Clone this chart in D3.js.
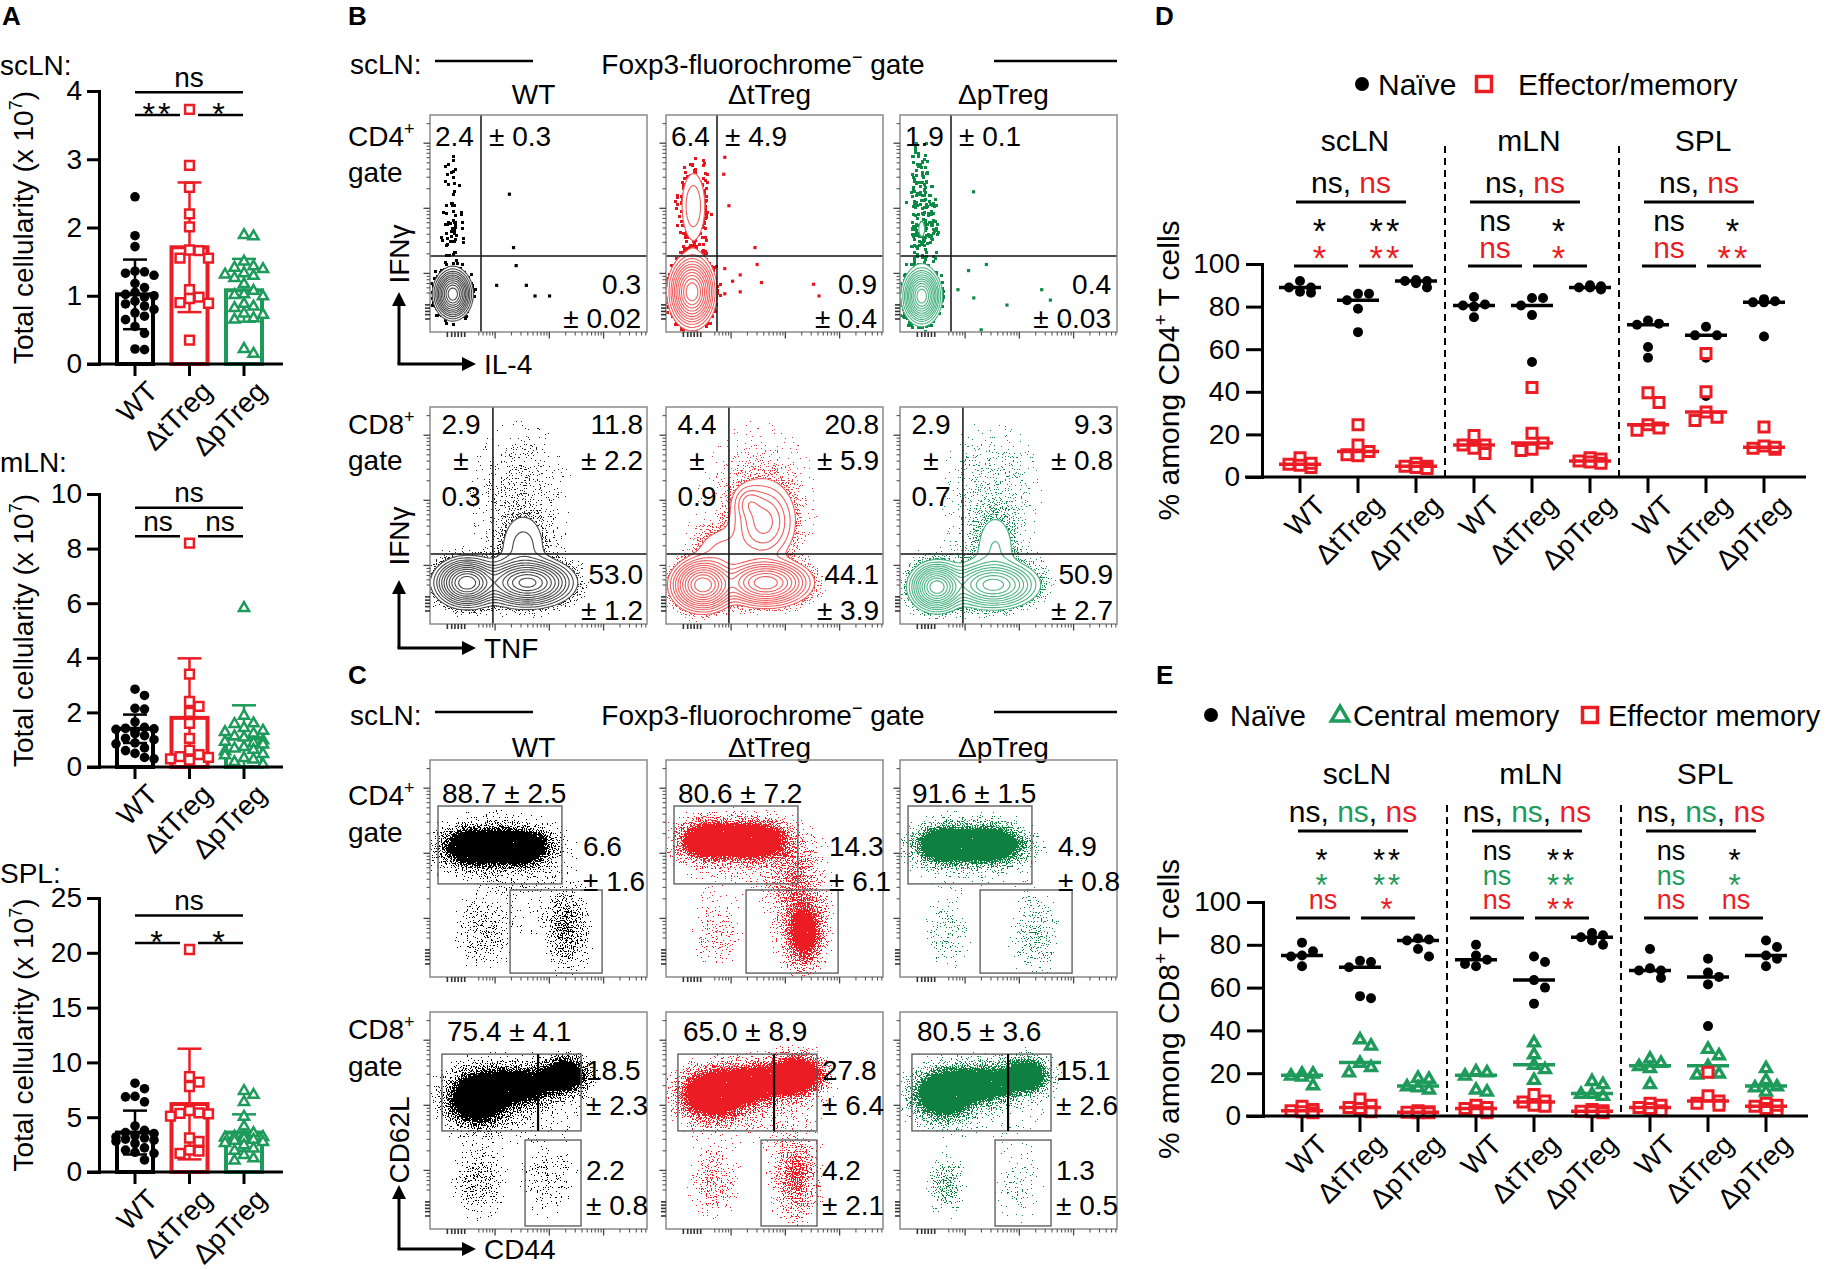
<!DOCTYPE html>
<html>
<head>
<meta charset="utf-8">
<script src="https://cdn.jsdelivr.net/npm/d3@7/dist/d3.min.js"></script>
<style>
  body { margin: 0; background: #fff; }
  svg { display: block; font-family: Arial, "Liberation Sans", Helvetica, sans-serif; }
</style>
</head>
<body>
<svg id="fig" width="1826" height="1269"></svg>
<script>
// ---------------- data ----------------
var groups = ["WT", "ΔtTreg", "ΔpTreg"];
var organs = ["scLN", "mLN", "SPL"];

// A: total cellularity (x 10^7), one list per genotype
var cellScLN = [
  [2.45, 1.88, 1.72, 1.36, 1.35, 1.33, 1.3, 1.18, 1.12, 1.05, 1.02, 1.0, 0.98, 0.92, 0.88, 0.85, 0.8, 0.75, 0.7, 0.65, 0.55, 0.45, 0.22, 0.21],
  [3.73, 2.91, 2.59, 2.2, 2.01, 1.67, 1.66, 1.55, 1.55, 1.09, 0.98, 0.96, 0.9, 0.89, 0.35],
  [1.9, 1.88, 1.51, 1.44, 1.42, 1.4, 1.34, 1.32, 1.3, 1.27, 1.18, 1.08, 1.03, 1.02, 1.0, 0.89, 0.85, 0.83, 0.75, 0.73, 0.68, 0.66, 0.23, 0.16]
];
var meanScLN = [1.02, 1.71, 1.08];
var sdScLN = [0.51, 0.95, 0.46];
var cellMLN = [
  [2.85, 2.62, 2.15, 2.12, 1.65, 1.45, 1.42, 1.4, 1.38, 1.3, 1.22, 1.15, 1.05, 1.0, 0.88, 0.85, 0.7, 0.6, 0.5, 0.35, 0.3],
  [8.2, 3.4, 2.4, 2.22, 2.0, 1.6, 1.05, 0.62, 0.45, 0.38, 0.35, 0.3, 0.25],
  [5.85, 1.9, 1.62, 1.6, 1.45, 1.35, 1.3, 1.25, 1.15, 1.1, 1.0, 0.95, 0.9, 0.85, 0.75, 0.7, 0.65, 0.6, 0.5, 0.45, 0.35, 0.3, 0.2, 0.12]
];
var meanMLN = [1.4, 1.8, 1.04];
var sdMLN = [0.52, 2.18, 1.22];
var cellSPL = [
  [8.1, 7.6, 6.9, 6.85, 6.4, 4.2, 3.8, 3.6, 3.5, 3.3, 3.2, 3.1, 3.0, 2.9, 2.8, 2.6, 2.2, 2.0, 1.8, 1.7, 1.1],
  [20.3, 8.7, 8.2, 7.8, 5.6, 5.4, 5.35, 5.3, 5.1, 3.1, 2.8, 2.0, 1.9, 1.7],
  [7.45, 7.1, 6.45, 5.1, 4.2, 3.6, 3.4, 3.3, 3.25, 3.2, 3.1, 3.0, 2.9, 2.8, 2.7, 2.5, 2.2, 2.0, 1.6, 1.3, 1.1]
];
var meanSPL = [3.6, 6.2, 3.6];
var sdSPL = [2.0, 5.05, 1.66];
// significance: all three, WT vs ΔtTreg, ΔtTreg vs ΔpTreg
var sigScLN = ["ns", "**", "*"];
var sigMLN = ["ns", "ns", "ns"];
var sigSPL = ["ns", "*", "*"];

// B: cytokine quadrant frequencies (mean ± SD)
var bCd4IfngMean = ["2.4", "6.4", "1.9"];
var bCd4IfngSd = ["0.3", "4.9", "0.1"];
var bCd4Il4Mean = ["0.3", "0.9", "0.4"];
var bCd4Il4Sd = ["0.02", "0.4", "0.03"];
var bCd8IfngMean = ["2.9", "4.4", "2.9"];
var bCd8IfngSd = ["0.3", "0.9", "0.7"];
var bCd8DoubleMean = ["11.8", "20.8", "9.3"];
var bCd8DoubleSd = ["2.2", "5.9", "0.8"];
var bCd8TnfMean = ["53.0", "44.1", "50.9"];
var bCd8TnfSd = ["1.2", "3.9", "2.7"];

// C: CD62L / CD44 gate frequencies
var cCd4NaiveMean = ["88.7", "80.6", "91.6"];
var cCd4NaiveSd = ["2.5", "7.2", "1.5"];
var cCd4EffMean = ["6.6", "14.3", "4.9"];
var cCd4EffSd = ["1.6", "6.1", "0.8"];
var cCd8NaiveMean = ["75.4", "65.0", "80.5"];
var cCd8NaiveSd = ["4.1", "8.9", "3.6"];
var cCd8CmMean = ["18.5", "27.8", "15.1"];
var cCd8CmSd = ["2.3", "6.4", "2.6"];
var cCd8EmMean = ["2.2", "4.2", "1.3"];
var cCd8EmSd = ["0.8", "2.1", "0.5"];

// flow populations: [x, y, spreadX, spreadY, weight] in axis fractions
var bCd4Pops = [
  [[0.105, 0.175, 0.034, 0.045, 1], [0.1, 0.45, 0.045, 0.09, 0.016], [0.1, 0.72, 0.04, 0.12, 0.012], [0.11, 0.18, 0.06, 0.08, 0.012]],
  [[0.12, 0.185, 0.042, 0.065, 1], [0.125, 0.58, 0.03, 0.085, 0.05], [0.13, 0.58, 0.055, 0.17, 0.022], [0.12, 0.19, 0.065, 0.1, 0.015]],
  [[0.1, 0.165, 0.034, 0.05, 1], [0.1, 0.46, 0.05, 0.1, 0.024], [0.1, 0.72, 0.05, 0.12, 0.018], [0.1, 0.17, 0.065, 0.1, 0.016]]
];
var bCd4Dots = [
  [[0.366, 0.635], [0.385, 0.389], [0.397, 0.306], [0.307, 0.215], [0.444, 0.215], [0.484, 0.166], [0.551, 0.166]],
  [[0.271, 0.805], [0.266, 0.727], [0.29, 0.582], [0.41, 0.389], [0.271, 0.292], [0.342, 0.263], [0.307, 0.234], [0.342, 0.185], [0.271, 0.176], [0.42, 0.311], [0.44, 0.228], [0.68, 0.22], [0.705, 0.166]],
  [[0.339, 0.646], [0.316, 0.283], [0.398, 0.311], [0.267, 0.195], [0.34, 0.157], [0.493, 0.124], [0.653, 0.195], [0.693, 0.147], [0.741, 0.04], [0.374, 0.01]]
];
var bCd8Pops = [
  [[0.17, 0.19, 0.06, 0.045, 1], [0.45, 0.19, 0.085, 0.045, 0.9], [0.43, 0.36, 0.065, 0.09, 0.05], [0.42, 0.62, 0.15, 0.2, 0.01], [0.3, 0.2, 0.2, 0.09, 0.015]],
  [[0.17, 0.18, 0.06, 0.05, 1], [0.46, 0.19, 0.085, 0.045, 0.8], [0.45, 0.47, 0.07, 0.09, 0.18], [0.38, 0.56, 0.035, 0.04, 0.08], [0.26, 0.33, 0.08, 0.07, 0.05], [0.42, 0.6, 0.17, 0.21, 0.01]],
  [[0.17, 0.17, 0.05, 0.045, 1.1], [0.43, 0.18, 0.085, 0.045, 0.65], [0.44, 0.35, 0.06, 0.1, 0.045], [0.42, 0.62, 0.15, 0.2, 0.011], [0.3, 0.2, 0.2, 0.09, 0.015]]
];
var cCd4Pops = [
  [[0.2, 0.6, 0.08, 0.05, 2.2], [0.4, 0.6, 0.09, 0.05, 2.2], [0.3, 0.58, 0.2, 0.11, 0.18], [0.25, 0.2, 0.08, 0.1, 0.25], [0.63, 0.22, 0.06, 0.11, 0.5], [0.45, 0.35, 0.15, 0.12, 0.07]],
  [[0.2, 0.63, 0.08, 0.05, 2.2], [0.4, 0.63, 0.09, 0.05, 2.2], [0.35, 0.57, 0.2, 0.11, 0.18], [0.64, 0.2, 0.05, 0.09, 1.2], [0.62, 0.3, 0.08, 0.16, 0.3], [0.24, 0.2, 0.07, 0.1, 0.22], [0.58, 0.47, 0.07, 0.1, 0.3]],
  [[0.21, 0.61, 0.08, 0.05, 2.2], [0.41, 0.61, 0.09, 0.05, 2.2], [0.32, 0.58, 0.2, 0.11, 0.14], [0.22, 0.2, 0.07, 0.1, 0.2], [0.62, 0.2, 0.07, 0.12, 0.26]]
];
var cCd8Pops = [
  [[0.22, 0.6, 0.08, 0.07, 2.2], [0.4, 0.66, 0.1, 0.05, 1.8], [0.62, 0.71, 0.06, 0.045, 2.2], [0.4, 0.6, 0.22, 0.13, 0.14], [0.22, 0.22, 0.07, 0.1, 0.3], [0.55, 0.22, 0.08, 0.1, 0.22]],
  [[0.22, 0.62, 0.09, 0.065, 2.2], [0.4, 0.67, 0.1, 0.05, 1.8], [0.6, 0.71, 0.07, 0.05, 2.4], [0.4, 0.6, 0.22, 0.13, 0.16], [0.6, 0.24, 0.06, 0.12, 0.65], [0.22, 0.22, 0.07, 0.1, 0.28]],
  [[0.2, 0.62, 0.08, 0.065, 2.2], [0.38, 0.67, 0.1, 0.05, 1.8], [0.58, 0.71, 0.06, 0.045, 2.0], [0.4, 0.6, 0.22, 0.12, 0.12], [0.21, 0.2, 0.05, 0.08, 0.4], [0.55, 0.2, 0.08, 0.12, 0.14]]
];
// flow axis ticks (fractions of the axis)
var flowMajorX = [0.3, 0.55, 0.8];
var flowZeroX = [0.08, 0.1, 0.115, 0.13, 0.145, 0.16];
var flowMajorY = [0.27, 0.57, 0.87];
var flowZeroY = [0.06, 0.08, 0.095, 0.11, 0.125];

// D: % among CD4+ T cells, [organ][genotype] = mice
var cd4Naive = [
  [[92, 86.5, 89, 89, 87], [86, 86, 83, 79, 68], [91, 89, 92, 92.5, 92]],
  [[84.5, 80, 81, 75, 80.5], [84, 84, 80.5, 76, 54], [88, 89, 89, 90, 89.5]],
  [[73.5, 72, 71.5, 61, 56], [70.5, 66.5, 66.5, 56, 38], [82, 82.5, 82, 83.5, 66]]
];
var cd4Eff = [
  [[9, 4.5, 6.5, 5.5, 6], [24.5, 15, 10.5, 12, 10], [5, 6.5, 4.5, 5, 4]],
  [[19.5, 15, 11, 13.5, 15], [42, 20.5, 16, 12.5, 13], [7.5, 9, 8.5, 7, 6.5]],
  [[39.5, 35, 24.5, 23, 22], [58, 40, 30.5, 26.5, 28], [23.5, 14.5, 13, 14, 13.5]]
];
var cd4SigAll = [["ns", "ns"], ["ns", "ns"], ["ns", "ns"]];
var cd4SigPair = [[["*", "**"], ["*", "**"]], [["ns", "*"], ["ns", "*"]], [["ns", "*"], ["ns", "**"]]];

// E: % among CD8+ T cells
var cd8Naive = [
  [[81, 77, 75, 70, 74.5], [72.5, 72, 69.5, 56, 55], [83, 82.5, 82, 78, 74.5]],
  [[80, 75, 73, 70, 71], [74.5, 72, 63.5, 60, 52.5], [85.5, 84.5, 83.5, 82, 80]],
  [[78, 69, 68, 64.5, 68], [73.5, 67, 65, 61.5, 42], [82, 79, 75, 73.5, 70]]
];
var cd8Cm = [
  [[20, 19, 18.5, 14.5, 20], [36, 33, 25, 23, 20.5], [18, 17.5, 13.5, 12.5, 14]],
  [[21, 20.5, 19, 12.5, 11.5], [34.5, 29, 24, 22, 17], [16.5, 15, 10.5, 10.5, 9.5]],
  [[27, 25, 23.5, 22.5, 15], [31.5, 28.5, 23.5, 20, 19.5], [22.5, 17, 14, 13.5, 11.5]]
];
var cd8Em = [
  [[4.5, 2.5, 2, 3, 1.5], [8, 5, 4, 3.5, 2], [2.5, 2, 1.5, 1.8, 1.5]],
  [[5, 3.5, 2.5, 4, 1.5], [10, 7, 5, 4.5, 6.5], [3, 2.5, 2, 1.5, 2.2]],
  [[6, 5, 4, 3.5, 2.5], [20.5, 9.5, 7, 6, 5], [6, 4.5, 3.5, 2.5, 5]]
];
var cd8SigAll = [["ns", "ns", "ns"], ["ns", "ns", "ns"], ["ns", "ns", "ns"]];
var cd8SigPair = [
  [["*", "**"], ["*", "**"], ["ns", "*"]],
  [["ns", "**"], ["ns", "**"], ["ns", "**"]],
  [["ns", "*"], ["ns", "*"], ["ns", "ns"]]
];
var pctTicks = [0, 20, 40, 60, 80, 100];

// ---------------- drawing ----------------
var svg = d3.select("#fig");
var defs = svg.append("defs");
var RED = "#ec1c24", GREEN = "#1e9a5a";
var colorOf = ["#000000", RED, GREEN];

function addText(parent, x, y, str, size, anchor, color, weight) {
  return parent.append("text").attr("x", x).attr("y", y).attr("font-size", size)
    .attr("text-anchor", anchor || "start").attr("fill", color || "#000")
    .attr("font-weight", weight || "normal").text(str);
}
function hline(parent, x1, x2, y, w, color) {
  return parent.append("line").attr("x1", x1).attr("x2", x2).attr("y1", y).attr("y2", y)
    .attr("stroke", color || "#000").attr("stroke-width", w);
}
function vline(parent, x, y1, y2, w, color) {
  return parent.append("line").attr("x1", x).attr("x2", x).attr("y1", y1).attr("y2", y2)
    .attr("stroke", color || "#000").attr("stroke-width", w);
}
// significance label centred on cy; asterisks sit higher in the font so they get shifted
function sigText(parent, x, cy, str, color, fs) {
  var star = str.indexOf("*") >= 0;
  var size = star ? fs * 1.15 : fs;
  return parent.append("text").attr("x", x).attr("y", cy + (star ? 0.57 * size : 0.27 * size))
    .attr("font-size", size).attr("text-anchor", "middle").attr("fill", color)
    .attr("letter-spacing", star ? 3 : 0).text(str);
}
function styleAxis(sel, fs, w) {
  sel.attr("font-size", fs).attr("font-family", null);
  sel.select(".domain").attr("stroke-width", w).attr("stroke-linecap", "square");
  sel.selectAll(".tick line").attr("stroke-width", w);
}
function marker(parent, shape, x, y, color, size, sw) {
  if (shape === "circle") {
    return parent.append("circle").attr("cx", x).attr("cy", y).attr("r", size).attr("fill", color);
  }
  var sym = shape === "square" ? d3.symbolSquare : d3.symbolTriangle;
  var area = shape === "square" ? (2 * size) * (2 * size) : Math.sqrt(3) / 4 * Math.pow(2.3 * size, 2);
  return parent.append("path").attr("d", d3.symbol().type(sym).size(area)())
    .attr("transform", "translate(" + x + "," + (y + (shape === "triangle" ? size * 0.15 : 0)) + ")")
    .attr("fill", "#fff").attr("stroke", color).attr("stroke-width", sw);
}
// spread points sideways so they do not sit on top of each other
function swarm(vals, yScale, step, maxOff) {
  var placed = [], off = [];
  var order = vals.map(function (v, i) { return i; }).sort(function (a, b) { return vals[b] - vals[a]; });
  var cands = [0];
  for (var k = 1; k * step <= maxOff + 0.1; k++) { cands.push(k * step, -k * step); }
  order.forEach(function (i, n) {
    var py = yScale(vals[i]), pick = null;
    for (var c = 0; c < cands.length; c++) {
      var ok = placed.every(function (p) { return Math.hypot(p[0] - cands[c], p[1] - py) >= step * 0.92; });
      if (ok) { pick = cands[c]; break; }
    }
    if (pick === null) pick = cands[n % cands.length];
    off[i] = pick;
    placed.push([pick, py]);
  });
  return off;
}

// panel letters
addText(svg, 2, 25, "A", 26, "start", "#000", "bold");
addText(svg, 348, 25, "B", 26, "start", "#000", "bold");
addText(svg, 348, 684, "C", 26, "start", "#000", "bold");
addText(svg, 1155, 25, "D", 26, "start", "#000", "bold");
addText(svg, 1156, 684, "E", 26, "start", "#000", "bold");

// ---------- A ----------
var aRows = [
  { name: "scLN:", nameY: 75, base: 364, top: 91, max: 4, ticks: [0, 1, 2, 3, 4], pts: cellScLN, mean: meanScLN, sd: sdScLN, sig: sigScLN, hi: 3.98, lo: 3.65 },
  { name: "mLN:", nameY: 472, base: 767, top: 494, max: 10, ticks: [0, 2, 4, 6, 8, 10], pts: cellMLN, mean: meanMLN, sd: sdMLN, sig: sigMLN, hi: 9.5, lo: 8.45 },
  { name: "SPL:", nameY: 883, base: 1172, top: 898, max: 25, ticks: [0, 5, 10, 15, 20, 25], pts: cellSPL, mean: meanSPL, sd: sdSPL, sig: sigSPL, hi: 23.4, lo: 20.9 }
];
var ax = d3.scalePoint().domain(groups).range([135, 244]);
aRows.forEach(function (r) {
  var g = svg.append("g");
  var y = d3.scaleLinear().domain([0, r.max]).range([r.base, r.top]);
  addText(g, 0, r.nameY, r.name, 28);
  var yl = g.append("text").attr("transform", "translate(33," + ((r.base + r.top) / 2) + ") rotate(-90)")
    .attr("text-anchor", "middle").attr("font-size", 28);
  yl.append("tspan").text("Total cellularity (x 10");
  yl.append("tspan").attr("font-size", 18).attr("dy", -11).text("7");
  yl.append("tspan").attr("dy", 11).text(")");

  groups.forEach(function (gr, i) {
    var cx = ax(gr), col = colorOf[i];
    var m = r.mean[i], lo = Math.max(0, m - r.sd[i]), hi = m + r.sd[i];
    g.append("rect").attr("x", cx - 18).attr("y", y(m)).attr("width", 36).attr("height", r.base - y(m))
      .attr("fill", "none").attr("stroke", col).attr("stroke-width", 4);
    vline(g, cx, y(lo), y(hi), 2.5, col);
    hline(g, cx - 12, cx + 12, y(hi), 2.5, col);
    if (lo > 0) hline(g, cx - 12, cx + 12, y(lo), 2.5, col);
    var vals = r.pts[i];
    var off = swarm(vals, y, 9.5, 19);
    vals.forEach(function (v, k) {
      marker(g, ["circle", "square", "triangle"][i], cx + off[k], y(v), col, i === 0 ? 4.8 : 4.4, 2.5);
    });
  });

  var ya = g.append("g").attr("transform", "translate(99,0)")
    .call(d3.axisLeft(y).tickValues(r.ticks).tickFormat(d3.format("d")).tickSize(12).tickPadding(5).tickSizeOuter(0));
  styleAxis(ya, 28, 3);
  hline(g, 87, 283, r.base, 3);
  groups.forEach(function (gr) {
    vline(g, ax(gr), r.base, r.base + 12, 3);
    g.append("text").attr("transform", "translate(" + (ax(gr) + 10) + "," + (r.base + 15) + ") rotate(-45)")
      .attr("text-anchor", "end").attr("dy", "0.72em").attr("font-size", 28).text(gr);
  });

  // significance bars
  var yHi = y(r.hi), yLo = y(r.lo);
  hline(g, 135, 243, yHi, 2.5);
  sigText(g, 189, yHi - 13, r.sig[0], "#000", 28);
  hline(g, 135, 180, yLo, 2.5);
  hline(g, 198, 243, yLo, 2.5);
  sigText(g, 158, yLo - (r.sig[1].indexOf("*") >= 0 ? 8 : 13), r.sig[1], "#000", 28);
  sigText(g, 220, yLo - (r.sig[2].indexOf("*") >= 0 ? 8 : 13), r.sig[2], "#000", 28);
});

// ---------- B and C: flow plots ----------
var S = 217, GN = 100;
var flowX = [430, 666, 900];
var contourLevels = [0.025, 0.045, 0.075, 0.11, 0.16, 0.22, 0.3, 0.4, 0.52, 0.66, 0.82];
var stipLevels = d3.range(1, 21).map(function (k) { return k / 20; });
var plotId = 0;

function mixture(pops, u, v) {
  var d = 0;
  pops.forEach(function (p) {
    var du = (u - p[0]) / p[2], dv = (v - p[1]) / p[3];
    d += p[4] * Math.exp(-0.5 * (du * du + dv * dv));
  });
  return d;
}
// speckle texture: a pixel is lit when the local density beats the noise value
function stippleFilter(id, x0, y0, color, freq, seed, grow) {
  var f = defs.append("filter").attr("id", id).attr("filterUnits", "userSpaceOnUse")
    .attr("x", x0).attr("y", y0).attr("width", S).attr("height", S)
    .attr("color-interpolation-filters", "sRGB");
  f.append("feTurbulence").attr("type", "fractalNoise").attr("baseFrequency", freq)
    .attr("numOctaves", 2).attr("seed", seed).attr("result", "noise");
  f.append("feColorMatrix").attr("in", "noise").attr("type", "matrix")
    .attr("values", "0 0 0 0 0  0 0 0 0 0  0 0 0 0 0  1 0 0 0 0").attr("result", "na");
  f.append("feComponentTransfer").attr("in", "na").attr("result", "nu")
    .append("feFuncA").attr("type", "table").attr("tableValues", "0 0 0.01 0.06 0.22 0.5 0.78 0.94 0.99 1 1");
  f.append("feComposite").attr("in", "SourceGraphic").attr("in2", "nu").attr("operator", "arithmetic")
    .attr("k1", 0).attr("k2", 1).attr("k3", -1).attr("k4", 0.49).attr("result", "diff");
  f.append("feComponentTransfer").attr("in", "diff").attr("result", "mask0")
    .append("feFuncA").attr("type", "discrete").attr("tableValues", "0 1");
  if (grow) {
    f.append("feMorphology").attr("in", "mask0").attr("operator", "dilate").attr("radius", grow).attr("result", "mask");
  } else {
    f.append("feOffset").attr("in", "mask0").attr("dx", 0).attr("dy", 0).attr("result", "mask");
  }
  f.append("feFlood").attr("flood-color", color).attr("result", "col");
  f.append("feComposite").attr("in", "col").attr("in2", "mask").attr("operator", "in");
}

function flowPlot(x0, y0, o) {
  plotId++;
  var id = "fp" + plotId;
  var g = svg.append("g");
  var x = d3.scaleLinear().domain([0, 1]).range([x0, x0 + S]);
  var y = d3.scaleLinear().domain([0, 1]).range([y0 + S, y0]);
  defs.append("clipPath").attr("id", id + "c").append("rect")
    .attr("x", x0).attr("y", y0).attr("width", S).attr("height", S);
  var vals = [];
  for (var j = 0; j < GN; j++) {
    for (var i = 0; i < GN; i++) vals.push(mixture(o.pops, (i + 0.5) / GN, 1 - (j + 0.5) / GN));
  }
  if (o.type === "contour") {
    var mx = d3.max(vals);
    vals = vals.map(function (v) { return v / mx; });
  }
  var path = d3.geoPath(d3.geoIdentity().scale(S / GN).translate([x0, y0]));
  var inner = g.append("g").attr("clip-path", "url(#" + id + "c)");

  stippleFilter(id + "f", x0, y0, o.dot, o.grain, plotId * 13 + 5, o.grow);
  var st = inner.append("g").attr("filter", "url(#" + id + "f)");
  var areas = d3.contours().size([GN, GN]).thresholds(stipLevels.map(function (t) { return t / o.gain; }))(vals);
  var prev = 0;
  areas.forEach(function (a, k) {
    var t = stipLevels[k];
    var op = t >= 1 ? 1 : 1 - (1 - t) / (1 - prev);
    prev = t;
    st.append("path").attr("d", path(a)).attr("fill", "#000").attr("fill-opacity", op);
  });

  if (o.type === "contour") {
    var rings = d3.contours().size([GN, GN]).thresholds(contourLevels)(vals);
    inner.append("path").attr("d", path(rings[0])).attr("fill", "#fff");
    rings.forEach(function (rg) {
      inner.append("path").attr("d", path(rg)).attr("fill", "none").attr("stroke", o.line).attr("stroke-width", 1.1);
    });
  }
  (o.dots || []).forEach(function (p) {
    inner.append("rect").attr("x", x(p[0]) - 1.6).attr("y", y(p[1]) - 1.6)
      .attr("width", 3.2).attr("height", 3.2).attr("fill", o.dot);
  });
  return { g: g, x: x, y: y, inner: inner, x0: x0, y0: y0 };
}

function flowFrame(fp) {
  var g = fp.g, x0 = fp.x0, y0 = fp.y0, b = y0 + S;
  g.append("rect").attr("x", x0).attr("y", y0).attr("width", S).attr("height", S)
    .attr("fill", "none").attr("stroke", "#8a8a8a").attr("stroke-width", 1.5);
  function decade(majors, w) {
    var out = [];
    majors.forEach(function (m) {
      d3.range(2, 10).forEach(function (k) {
        var t = m + w * Math.log10(k);
        if (t < 0.995) out.push(t);
      });
    });
    d3.range(5, 10).forEach(function (k) { out.push(majors[0] - w + w * Math.log10(k)); });
    return out;
  }
  decade(flowMajorX, 0.25).forEach(function (t) { vline(g, fp.x(t), b, b + 3.5, 1.1, "#555"); });
  flowMajorX.forEach(function (t) { vline(g, fp.x(t), b, b + 6.5, 1.3, "#444"); });
  flowZeroX.forEach(function (t) { vline(g, fp.x(t), b, b + 5, 1.6, "#333"); });
  decade(flowMajorY, 0.3).forEach(function (t) { hline(g, x0 - 3.5, x0, fp.y(t), 1.1, "#555"); });
  flowMajorY.forEach(function (t) { hline(g, x0 - 6.5, x0, fp.y(t), 1.3, "#444"); });
  flowZeroY.forEach(function (t) { hline(g, x0 - 5, x0, fp.y(t), 1.6, "#333"); });
}

function gateRect(fp, u0, u1, v0, v1) {
  fp.g.append("rect").attr("x", fp.x(u0)).attr("y", fp.y(v1)).attr("width", fp.x(u1) - fp.x(u0))
    .attr("height", fp.y(v0) - fp.y(v1)).attr("fill", "none").attr("stroke", "#555").attr("stroke-width", 1.3);
}

function axisArrow(cx, cy, topY, rightX, yLab, yLabCY, xLab) {
  var g = svg.append("g");
  vline(g, cx, cy, topY + 12, 3);
  hline(g, cx - 1.5, rightX - 12, cy, 3);
  g.append("path").attr("d", "M" + (cx - 7) + "," + (topY + 14) + "L" + cx + "," + topY + "L" + (cx + 7) + "," + (topY + 14) + "Z");
  g.append("path").attr("d", "M" + (rightX - 14) + "," + (cy - 7) + "L" + rightX + "," + cy + "L" + (rightX - 14) + "," + (cy + 7) + "Z");
  g.append("text").attr("transform", "translate(" + (cx + 10) + "," + yLabCY + ") rotate(-90)")
    .attr("text-anchor", "middle").attr("font-size", 28).text(yLab);
  addText(g, rightX + 8, cy + 10, xLab, 28);
}

function flowHeader(yLine, yCols) {
  var g = svg.append("g");
  addText(g, 350, yLine + 13, "scLN:", 28);
  hline(g, 435, 533, yLine, 2.5);
  hline(g, 994, 1117, yLine, 2.5);
  var t = g.append("text").attr("x", 763).attr("y", yLine + 13).attr("text-anchor", "middle").attr("font-size", 28);
  t.append("tspan").text("Foxp3-fluorochrome");
  t.append("tspan").attr("font-size", 18).attr("dy", -11).text("−");
  t.append("tspan").attr("dy", 11).text(" gate");
  groups.forEach(function (gr, c) { addText(g, flowX[c] + S / 2 - 5, yCols, gr, 28, "middle"); });
}
function gateLabel(y1, y2, cd) {
  var t = addText(svg, 348, y1, "", 28);
  t.append("tspan").text("CD" + cd);
  t.append("tspan").attr("font-size", 18).attr("dy", -11).text("+");
  addText(svg, 348, y2, "gate", 28);
}

// B header + rows
flowHeader(61, 104);
gateLabel(146, 182, 4);
gateLabel(434, 470, 8);
axisArrow(399, 364, 292, 476, "IFNγ", 254, "IL-4");
axisArrow(399, 648, 580, 476, "IFNγ", 536, "TNF");

var bDot1 = ["#000000", "#e8141c", "#0b8a44"];
var bDot2 = ["#222222", "#e83a3a", "#158a4c"];
var bLine = ["#4a4a4a", "#ee6060", "#4cb383"];
groups.forEach(function (gr, c) {
  var x0 = flowX[c];
  // CD4: IFNγ vs IL-4
  var p1 = flowPlot(x0, 115, { pops: bCd4Pops[c], type: "contour", dot: bDot1[c], line: bLine[c], grain: 0.9, gain: 7, grow: 1, dots: bCd4Dots[c] });
  vline(p1.g, p1.x(0.235), 115, 115 + S, 1.5, "#111");
  hline(p1.g, x0, x0 + S, p1.y(0.35), 1.5, "#111");
  flowFrame(p1);
  addText(svg, x0 + 5, 115 + 31, bCd4IfngMean[c], 28);
  addText(svg, p1.x(0.235) + 8, 115 + 31, "± " + bCd4IfngSd[c], 28);
  addText(svg, x0 + S - 6, 115 + 179, bCd4Il4Mean[c], 28, "end");
  addText(svg, x0 + S - 6, 115 + 213, "± " + bCd4Il4Sd[c], 28, "end");

  // CD8: IFNγ vs TNF
  var p2 = flowPlot(x0, 407, { pops: bCd8Pops[c], type: "contour", dot: bDot2[c], line: bLine[c], grain: 0.75, gain: 18 });
  vline(p2.g, p2.x(0.29), 407, 407 + S, 1.5, "#111");
  hline(p2.g, x0, x0 + S, p2.y(0.323), 1.5, "#111");
  flowFrame(p2);
  addText(svg, x0 + 31, 407 + 27, bCd8IfngMean[c], 28, "middle");
  addText(svg, x0 + 31, 407 + 63, "±", 28, "middle");
  addText(svg, x0 + 31, 407 + 99, bCd8IfngSd[c], 28, "middle");
  addText(svg, x0 + S - 4, 407 + 27, bCd8DoubleMean[c], 28, "end");
  addText(svg, x0 + S - 4, 407 + 63, "± " + bCd8DoubleSd[c], 28, "end");
  addText(svg, x0 + S - 4, 407 + 177, bCd8TnfMean[c], 28, "end");
  addText(svg, x0 + S - 4, 407 + 213, "± " + bCd8TnfSd[c], 28, "end");
});

// C header + rows
flowHeader(712, 757);
gateLabel(805, 842, 4);
gateLabel(1039, 1076, 8);
axisArrow(399, 1249, 1185, 476, "CD62L", 1140, "CD44");

var cDot = ["#000000", "#ec1c24", "#0e8040"];
var cSideX1 = [153, 163, 158];
groups.forEach(function (gr, c) {
  var x0 = flowX[c];
  var p1 = flowPlot(x0, 760, { pops: cCd4Pops[c], type: "dot", dot: cDot[c], grain: 0.8, gain: 1 });
  flowFrame(p1);
  gateRect(p1, 0.037, 0.608, 0.429, 0.788);
  gateRect(p1, 0.369, 0.793, 0.018, 0.401);
  addText(svg, x0 + 12, 760 + 43, cCd4NaiveMean[c] + " ± " + cCd4NaiveSd[c], 28);
  addText(svg, x0 + cSideX1[c], 760 + 96, cCd4EffMean[c], 28);
  addText(svg, x0 + cSideX1[c], 760 + 131, "± " + cCd4EffSd[c], 28);

  var p2 = flowPlot(x0, 1012, { pops: cCd8Pops[c], type: "dot", dot: cDot[c], grain: 0.8, gain: 1 });
  flowFrame(p2);
  gateRect(p2, 0.055, 0.696, 0.452, 0.806);
  vline(p2.g, p2.x(0.498), p2.y(0.806), p2.y(0.452), 2.2, "#000");
  gateRect(p2, 0.438, 0.696, 0.014, 0.41);
  addText(svg, x0 + 17, 1012 + 29, cCd8NaiveMean[c] + " ± " + cCd8NaiveSd[c], 28);
  addText(svg, x0 + 156, 1012 + 68, cCd8CmMean[c], 28);
  addText(svg, x0 + 156, 1012 + 103, "± " + cCd8CmSd[c], 28);
  addText(svg, x0 + 156, 1012 + 168, cCd8EmMean[c], 28);
  addText(svg, x0 + 156, 1012 + 203, "± " + cCd8EmSd[c], 28);
});

// ---------- D and E: subset frequencies ----------
function subsetPanel(o) {
  var g = svg.append("g");
  var keys = [];
  organs.forEach(function (og) { groups.forEach(function (gr) { keys.push(og + "|" + gr); }); });
  var x = d3.scalePoint().domain(keys).range(o.xr);
  var y = d3.scaleLinear().domain([0, 100]).range([o.base, o.top]);

  // legend
  o.legend.forEach(function (l) {
    var s = o.series[l.s];
    marker(g, s.shape, l.x, o.legY, s.color, s.shape === "circle" ? 7 : 7.5, 3.5);
    addText(g, l.tx, o.legY + 11, l.label, o.legFs);
  });

  // organ titles, separators
  organs.forEach(function (og, k) {
    var xs = groups.map(function (gr) { return x(og + "|" + gr); });
    addText(g, d3.mean(xs) - 3, o.titleY, og, 30, "middle");
    if (k > 0) {
      var xm = (x(organs[k - 1] + "|" + groups[2]) + xs[0]) / 2;
      g.append("line").attr("x1", xm).attr("x2", xm).attr("y1", o.dashTop).attr("y2", o.base)
        .attr("stroke", "#000").attr("stroke-width", 2).attr("stroke-dasharray", "7,5");
    }
  });

  // points + medians
  o.series.forEach(function (s) {
    organs.forEach(function (og, k) {
      groups.forEach(function (gr, i) {
        var cx = x(og + "|" + gr), vals = s.data[k][i];
        var off = swarm(vals, y, 11, 20);
        vals.forEach(function (v, n) {
          marker(g, s.shape, cx + off[n], y(v), s.color, s.shape === "triangle" ? 4.6 : 5, s.shape === "triangle" ? 3.4 : 3);
        });
        hline(g, cx - 21, cx + 21, y(d3.median(vals)), 3.5, s.color);
      });
    });
  });

  // axes
  var ya = g.append("g").attr("transform", "translate(" + o.axisX + ",0)")
    .call(d3.axisLeft(y).tickValues(pctTicks).tickSize(16).tickPadding(6).tickSizeOuter(0));
  styleAxis(ya, 28, 3);
  hline(g, o.axisX - 17, o.xEnd, o.base, 3);
  keys.forEach(function (kk) {
    var cx = x(kk);
    vline(g, cx, o.base, o.base + 16, 3);
    g.append("text").attr("transform", "translate(" + (cx + 13) + "," + (o.base + 16) + ") rotate(-45)")
      .attr("text-anchor", "end").attr("dy", "0.72em").attr("font-size", 28).text(kk.split("|")[1]);
  });
  var yl = g.append("text").attr("transform", "translate(" + o.labX + "," + ((o.base + o.top) / 2) + ") rotate(-90)")
    .attr("text-anchor", "middle").attr("font-size", 30);
  yl.append("tspan").text("% among CD" + o.cd);
  yl.append("tspan").attr("font-size", 19).attr("dy", -12).text("+");
  yl.append("tspan").attr("dy", 12).text(" T cells");

  // significance
  organs.forEach(function (og, k) {
    var xa = x(og + "|" + groups[0]), xb = x(og + "|" + groups[1]), xc = x(og + "|" + groups[2]);
    var l0 = xa - 4, l1 = xc - 10;
    hline(g, l0, l1, o.topLineY, 3);
    var t = g.append("text").attr("x", (l0 + l1) / 2).attr("y", o.topTextY + 8).attr("font-size", 30).attr("text-anchor", "middle");
    o.sigAll[k].forEach(function (sv, n) {
      t.append("tspan").attr("fill", o.series[n].color).text(sv);
      if (n < o.sigAll[k].length - 1) t.append("tspan").attr("fill", "#000").text(", ");
    });
    var p1 = [xa - 6, xb - 10], p2 = [xb + 1, xc - 3];
    hline(g, p1[0], p1[1], o.pairLineY, 3);
    hline(g, p2[0], p2[1], o.pairLineY, 3);
    o.series.forEach(function (s, n) {
      sigText(g, (p1[0] + p1[1]) / 2, o.rowsY[n], o.sigPair[k][n][0], s.color, o.rowFs);
      sigText(g, (p2[0] + p2[1]) / 2, o.rowsY[n], o.sigPair[k][n][1], s.color, o.rowFs);
    });
  });
}

subsetPanel({
  xr: [1300, 1764], base: 477, top: 264, axisX: 1262, xEnd: 1806, labX: 1179, cd: 4,
  legY: 84, legFs: 30, titleY: 151, dashTop: 146, rowFs: 30,
  series: [{ data: cd4Naive, color: "#000000", shape: "circle" }, { data: cd4Eff, color: RED, shape: "square" }],
  legend: [{ s: 0, x: 1362, tx: 1378, label: "Naïve" }, { s: 1, x: 1484, tx: 1518, label: "Effector/memory" }],
  sigAll: cd4SigAll, sigPair: cd4SigPair,
  topTextY: 185, topLineY: 202, rowsY: [223, 250], pairLineY: 266
});

subsetPanel({
  xr: [1302, 1766], base: 1116, top: 902, axisX: 1263, xEnd: 1808, labX: 1179, cd: 8,
  legY: 715, legFs: 29, titleY: 784, dashTop: 805, rowFs: 27,
  series: [{ data: cd8Naive, color: "#000000", shape: "circle" }, { data: cd8Cm, color: GREEN, shape: "triangle" }, { data: cd8Em, color: RED, shape: "square" }],
  legend: [{ s: 0, x: 1211, tx: 1230, label: "Naïve" }, { s: 1, x: 1340, tx: 1353, label: "Central memory" }, { s: 2, x: 1590, tx: 1608, label: "Effector memory" }],
  sigAll: cd8SigAll, sigPair: cd8SigPair,
  topTextY: 814, topLineY: 831, rowsY: [853, 878, 902], pairLineY: 918
});
</script>
</body>
</html>
